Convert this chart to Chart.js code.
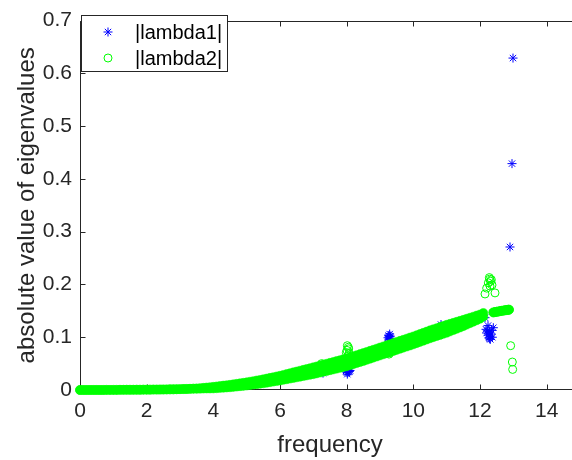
<!DOCTYPE html>
<html>
<head>
<meta charset="utf-8">
<script src="https://cdn.jsdelivr.net/npm/chart.js@4.4.1/dist/chart.umd.min.js"></script>
<style>
  html, body { margin: 0; padding: 0; background: #fff; overflow: hidden; }
  #wrap { width: 600px; height: 460px; }
</style>
</head>
<body>
<div id="wrap"><canvas id="c" width="600" height="460"></canvas></div>
<script>
// Frequency sweep where both eigenvalues coincide (dense band of samples)
const bandFreq = [
  0.0,0.1,0.2,0.3,0.4,0.5,0.6,0.7,0.8,0.9,
  1.0,1.1,1.2,1.3,1.4,1.5,1.6,1.7,1.8,1.9,
  2.0,2.1,2.2,2.3,2.4,2.5,2.6,2.7,2.8,2.9,
  3.0,3.1,3.2,3.3,3.4,3.5,3.6,3.7,3.8,3.9,
  4.0,4.1,4.2,4.3,4.4,4.5,4.6,4.7,4.8,4.9,
  5.0,5.1,5.2,5.3,5.4,5.5,5.6,5.7,5.8,5.9,
  6.0,6.1,6.2,6.3,6.4,6.5,6.6,6.7,6.8,6.9,
  7.0,7.1,7.2,7.3,7.4,7.5,7.6,7.7,7.8,7.9,
  8.0,8.1,8.2,8.3,8.4,8.5,8.6,8.7,8.8,8.9,
  9.0,9.1,9.2,9.3,9.4,9.5,9.6,9.7,9.8,9.9,
  10.0,10.1,10.2,10.3,10.4,10.5,10.6,10.7,10.8,10.9,
  11.0,11.1,11.2,11.3,11.4,11.5,11.6,11.7,11.8,11.9,
  12.0,12.1,
  12.40,12.45,12.50,12.55,12.60,12.65,12.70,12.75,12.80,12.85,12.87
];
// lower edge of the band of |lambda2| samples
const bandLow = [
  0.0000,0.0000,0.0000,0.0001,0.0001,0.0001,0.0001,0.0001,0.0002,0.0002,
  0.0002,0.0002,0.0003,0.0003,0.0004,0.0004,0.0004,0.0005,0.0005,0.0006,
  0.0006,0.0007,0.0008,0.0008,0.0009,0.0010,0.0011,0.0012,0.0013,0.0015,
  0.0016,0.0018,0.0020,0.0022,0.0025,0.0024,0.0025,0.0027,0.0029,0.0029,
  0.0030,0.0034,0.0039,0.0043,0.0048,0.0052,0.0059,0.0065,0.0072,0.0078,
  0.0085,0.0093,0.0102,0.0110,0.0119,0.0127,0.0138,0.0148,0.0159,0.0169,
  0.0180,0.0192,0.0204,0.0216,0.0228,0.0240,0.0252,0.0264,0.0276,0.0288,
  0.0300,0.0315,0.0330,0.0345,0.0360,0.0375,0.0390,0.0405,0.0420,0.0435,
  0.0450,0.0470,0.0490,0.0510,0.0530,0.0550,0.0571,0.0592,0.0613,0.0634,
  0.0655,0.0676,0.0697,0.0718,0.0739,0.0760,0.0781,0.0802,0.0823,0.0844,
  0.0865,0.0888,0.0911,0.0934,0.0957,0.0980,0.1001,0.1022,0.1043,0.1064,
  0.1085,0.1110,0.1135,0.1160,0.1185,0.1210,0.1238,0.1266,0.1294,0.1322,
  0.1350,0.1390,
  0.1470,0.1476,0.1482,0.1488,0.1494,0.1500,0.1505,0.1510,0.1515,0.1520,0.1522
];
// upper edge of the band of |lambda2| samples
const bandHigh = [
  0.0000,0.0000,0.0000,0.0001,0.0001,0.0001,0.0001,0.0001,0.0002,0.0002,
  0.0002,0.0002,0.0003,0.0003,0.0004,0.0004,0.0004,0.0005,0.0005,0.0006,
  0.0006,0.0007,0.0008,0.0008,0.0009,0.0010,0.0011,0.0012,0.0013,0.0015,
  0.0016,0.0018,0.0020,0.0022,0.0025,0.0030,0.0035,0.0041,0.0047,0.0053,
  0.0060,0.0068,0.0075,0.0083,0.0090,0.0098,0.0107,0.0117,0.0126,0.0136,
  0.0145,0.0157,0.0168,0.0180,0.0191,0.0203,0.0216,0.0230,0.0243,0.0257,
  0.0270,0.0286,0.0302,0.0318,0.0334,0.0350,0.0366,0.0382,0.0398,0.0414,
  0.0430,0.0447,0.0464,0.0481,0.0498,0.0515,0.0532,0.0549,0.0566,0.0583,
  0.0600,0.0620,0.0640,0.0660,0.0680,0.0700,0.0721,0.0742,0.0763,0.0784,
  0.0805,0.0826,0.0847,0.0868,0.0889,0.0910,0.0931,0.0952,0.0973,0.0994,
  0.1015,0.1038,0.1061,0.1084,0.1107,0.1130,0.1151,0.1172,0.1193,0.1214,
  0.1235,0.1254,0.1273,0.1292,0.1311,0.1330,0.1350,0.1370,0.1390,0.1410,
  0.1430,0.1460,
  0.1470,0.1476,0.1482,0.1488,0.1494,0.1500,0.1505,0.1510,0.1515,0.1520,0.1522
];

// |lambda1| samples that separate from the band
const lambda1Freq = [
  7.29, 7.98, 8.01, 8.03, 8.05, 8.06, 8.08, 8.10, 8.04, 8.02,
  9.24, 9.26, 9.27, 9.28, 9.29, 9.30, 9.31, 9.27,
  10.83,
  12.15, 12.18, 12.20, 12.22, 12.25, 12.27, 12.28, 12.30, 12.31, 12.33, 12.35, 12.37, 12.40, 12.24, 12.29,
  12.90, 12.96, 12.99
];
const lambda1Val = [
  0.032, 0.036, 0.033, 0.038, 0.034, 0.040, 0.035, 0.037, 0.043, 0.030,
  0.099, 0.103, 0.096, 0.101, 0.106, 0.098, 0.102, 0.093,
  0.124,
  0.137, 0.115, 0.108, 0.112, 0.104, 0.099, 0.110, 0.102, 0.096, 0.106, 0.113, 0.100, 0.118, 0.122, 0.097,
  0.271, 0.429, 0.629
];

// |lambda2| samples that separate from the band
const lambda2Freq = [
  7.25, 7.99, 8.02, 8.04, 8.06, 8.08, 8.05, 8.01,
  9.27, 9.30,
  10.83,
  12.15, 12.20, 12.25, 12.28, 12.30, 12.32, 12.34, 12.36, 12.45, 12.29,
  12.92, 12.97, 12.98
];
const lambda2Val = [
  0.050, 0.071, 0.084, 0.065, 0.078, 0.069, 0.081, 0.075,
  0.068, 0.071,
  0.109,
  0.182, 0.193, 0.203, 0.213, 0.197, 0.206, 0.209, 0.199, 0.184, 0.210,
  0.084, 0.053, 0.039
];

const xTicks = [0, 2, 4, 6, 8, 10, 12, 14];
const yTicks = [0, 0.1, 0.2, 0.3, 0.4, 0.5, 0.6, 0.7];
const seriesLabels = ['|lambda1|', '|lambda2|'];

const AXIS = '#262626';
const BLUE = '#0000ff';
const GREEN = '#00ff00';
const FONT = '"Liberation Sans", Arial, Helvetica, sans-serif';

const toPoints = (xs, ys) => xs.map((x, i) => ({ x: x, y: ys[i] }));

// axis lines (left, bottom, top) and inward tick marks, drawn beneath the data
const framePlugin = {
  id: 'frame',
  beforeDatasetsDraw(chart) {
    const { ctx, chartArea: a, scales: { x, y } } = chart;
    const L = 5;
    const left = Math.round(a.left) + 0.5;
    const top = Math.round(a.top) + 0.5;
    const bottom = Math.round(a.bottom) - 0.5;
    ctx.save();
    ctx.strokeStyle = AXIS;
    ctx.lineWidth = 1;
    ctx.beginPath();
    ctx.moveTo(left, top); ctx.lineTo(a.right, top);
    ctx.moveTo(left, top); ctx.lineTo(left, bottom);
    ctx.moveTo(left, bottom); ctx.lineTo(a.right, bottom);
    x.ticks.forEach(t => {
      const px = Math.round(x.getPixelForValue(t.value)) + 0.5;
      ctx.moveTo(px, bottom); ctx.lineTo(px, bottom - L);
      ctx.moveTo(px, top); ctx.lineTo(px, top + L);
    });
    y.ticks.forEach(t => {
      const py = Math.round(y.getPixelForValue(t.value)) + 0.5;
      ctx.moveTo(left, py); ctx.lineTo(left + L, py);
    });
    ctx.stroke();
    ctx.beginPath();
    ctx.restore();
  }
};

// boxed legend in the upper-left corner of the plot
const legendPlugin = {
  id: 'boxLegend',
  afterDraw(chart) {
    const { ctx } = chart;
    const box = { x: 81.5, y: 15.5, w: 146, h: 56 };
    const rows = [32, 58];
    ctx.save();
    ctx.fillStyle = '#fff';
    ctx.fillRect(box.x, box.y, box.w, box.h);
    ctx.strokeStyle = AXIS;
    ctx.lineWidth = 1;
    ctx.strokeRect(box.x, box.y, box.w, box.h);
    [0, 1].forEach((di, k) => {
      const ds = chart.data.datasets[di];
      ctx.strokeStyle = ds.pointBorderColor;
      ctx.fillStyle = ds.pointBackgroundColor;
      ctx.lineWidth = ds.pointBorderWidth;
      Chart.helpers.drawPoint(ctx, {
        pointStyle: ds.pointStyle, radius: ds.pointRadius,
        borderWidth: ds.pointBorderWidth, rotation: 0
      }, 108, rows[k]);
      ctx.fillStyle = '#000';
      ctx.font = '20px ' + FONT;
      ctx.textBaseline = 'middle';
      ctx.textAlign = 'left';
      ctx.fillText(ds.label, 135, rows[k] + 1);
    });
    ctx.restore();
  }
};

new Chart(document.getElementById('c'), {
  type: 'scatter',
  data: {
    datasets: [
      {
        label: seriesLabels[0],
        data: toPoints(lambda1Freq, lambda1Val),
        pointStyle: 'star', pointRadius: 4.5, pointBorderWidth: 1,
        pointBorderColor: BLUE, pointBackgroundColor: BLUE,
        order: 3, clip: false
      },
      {
        label: seriesLabels[1],
        data: toPoints(lambda2Freq, lambda2Val),
        pointStyle: 'circle', pointRadius: 4, pointBorderWidth: 1,
        pointBorderColor: GREEN, pointBackgroundColor: 'rgba(0,0,0,0)',
        order: 1, clip: false
      },
      {
        label: seriesLabels[1],
        data: toPoints(bandFreq, bandLow),
        pointStyle: 'circle', pointRadius: 4.5, pointBorderWidth: 0.5,
        pointBorderColor: GREEN, pointBackgroundColor: GREEN,
        order: 2, clip: false
      },
      {
        label: seriesLabels[1],
        data: toPoints(bandFreq, bandHigh),
        pointStyle: 'circle', pointRadius: 4.5, pointBorderWidth: 0.5,
        pointBorderColor: GREEN, pointBackgroundColor: GREEN,
        order: 2, clip: false
      }
    ]
  },
  options: {
    responsive: false,
    animation: false,
    devicePixelRatio: 1,
    layout: { padding: { left: 0, right: 20, top: 16, bottom: 0 } },
    plugins: { legend: { display: false }, tooltip: { enabled: false } },
    scales: {
      x: {
        type: 'linear', position: 'bottom', min: 0, max: 15,
        afterBuildTicks: s => { s.ticks = xTicks.map(v => ({ value: v })); },
        afterFit: s => { s.height = 70; },
        grid: { display: false, drawTicks: false },
        border: { display: false },
        ticks: { color: AXIS, font: { family: FONT, size: 21 }, padding: 9, maxRotation: 0,
                 callback: v => String(v) },
        title: { display: true, text: 'frequency', color: AXIS,
                 font: { family: FONT, size: 24 }, padding: { top: 0, bottom: 0 } }
      },
      y: {
        type: 'linear', min: 0, max: 0.7,
        afterBuildTicks: s => { s.ticks = yTicks.map(v => ({ value: v })); },
        afterFit: s => { s.width = 80; },
        grid: { display: false, drawTicks: false },
        border: { display: false },
        ticks: { color: AXIS, font: { family: FONT, size: 21 }, padding: 8,
                 callback: v => (v === 0 ? '0' : v.toFixed(1)) },
        title: { display: true, text: 'absolute value of eigenvalues', color: AXIS,
                 font: { family: FONT, size: 24 }, padding: { top: 13, bottom: 0 } }
      }
    }
  },
  plugins: [framePlugin, legendPlugin]
});
</script>
</body>
</html>
